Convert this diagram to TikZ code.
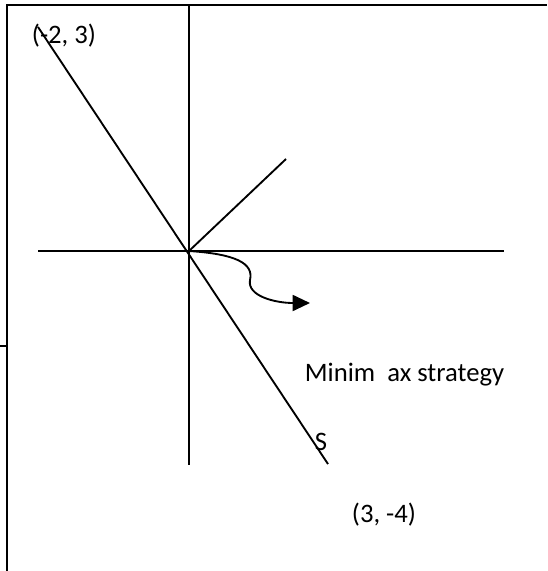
\documentclass[tikz,border=0pt]{standalone}
\usepackage{fontspec}
\setmainfont{Carlito}
\usetikzlibrary{arrows.meta}

\begin{document}
\begin{tikzpicture}[x=0.75pt,y=-0.75pt,line width=1.4pt,
        lbl/.style={font=\fontsize{20}{24}\selectfont,inner sep=0pt,anchor=base west}]
            \useasboundingbox (0,0) rectangle (547,571);
            % Rahmen:
            \draw (7,571) -- (7,5) -- (547,5);
            \draw (0,346) -- (7,346);
            % Achsen:
            \coordinate (O) at (189,251);
            \coordinate (xl) at (38,251);
            \coordinate (xr) at (504,251);
            \coordinate (yt) at (189,5);
            \coordinate (yb) at (189,465);
            \draw (xl) -- (xr);
            \draw (yt) -- (yb);
            % Strategielinien:
            \coordinate (P) at (38,27);
            \coordinate (Q) at (328,464);
            \coordinate (R) at (286,159);
            \draw (P) -- (Q);
            \draw (O) -- (R);
            \coordinate (T) at (310,303);
            \draw[-{Triangle[length=13pt,width=12pt]}] (O)
                .. controls (235,254) and (254,263) .. (250,280)
                .. controls (247,296) and (275,303) .. (T);
            % Beschriftungen:
            \node[lbl] (A) at (31,43) {(-2, 3)};
            \node[lbl] (B) at (351,522) {(3, -4)};
            \node[lbl] (S) at (314,450) {S};
            \node[lbl] (M) at (304,381) {Minim\hspace{9pt}ax strategy};
\end{tikzpicture}
\end{document}
